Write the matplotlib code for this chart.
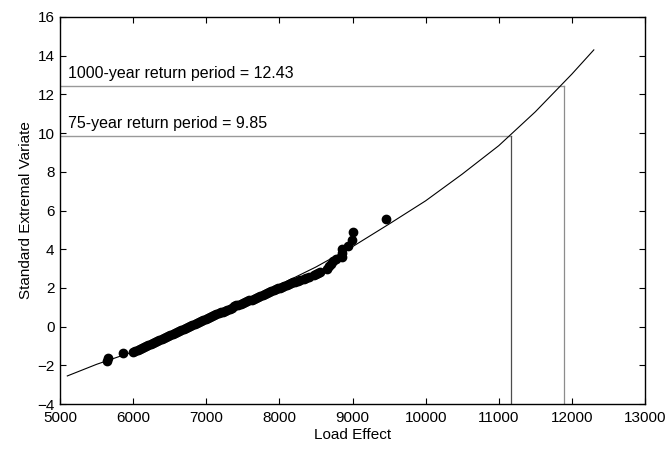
import matplotlib
matplotlib.use("Agg")
import matplotlib.pyplot as plt

plt.rcParams['font.family'] = ['Liberation Sans', 'DejaVu Sans']

# Observed data (load effect vs standard extremal variate)
obs_x = [5640, 5650, 5860, 6000, 6030, 6060, 6090, 6120, 6150, 6180, 6210, 6240,
         6270, 6300, 6330, 6360, 6390, 6420, 6450, 6480, 6510, 6540, 6570, 6600,
         6630, 6660, 6690, 6720, 6750, 6780, 6810, 6840, 6870, 6900, 6930, 6960,
         6990, 7020, 7050, 7080, 7110, 7140, 7170, 7200, 7230, 7260, 7290, 7320,
         7350, 7380, 7410, 7440, 7470, 7500, 7530, 7560, 7590, 7620, 7650, 7680,
         7710, 7740, 7770, 7800, 7830, 7860, 7890, 7920, 7950, 7980, 8010, 8040,
         8070, 8100, 8130, 8160, 8190, 8220, 8250, 8280, 8330, 8360, 8400, 8470,
         8500, 8530, 8560, 8650, 8680, 8710, 8740, 8770, 8850, 8855, 8860, 8935,
         8990, 9005, 9455]
obs_y = [-1.80, -1.62, -1.38, -1.30, -1.25, -1.20, -1.16, -1.10, -1.05, -1.00, -0.95, -0.90,
         -0.85, -0.79, -0.74, -0.70, -0.64, -0.59, -0.53, -0.48, -0.43, -0.38, -0.33, -0.27,
         -0.22, -0.18, -0.12, -0.07, -0.02, 0.03, 0.08, 0.13, 0.18, 0.22, 0.28, 0.33,
         0.38, 0.44, 0.50, 0.55, 0.60, 0.65, 0.69, 0.73, 0.78, 0.83, 0.88, 0.93,
         0.98, 1.05, 1.10, 1.13, 1.16, 1.20, 1.25, 1.30, 1.35, 1.40, 1.45, 1.50,
         1.55, 1.59, 1.64, 1.69, 1.73, 1.78, 1.84, 1.89, 1.93, 1.98, 2.02, 2.06,
         2.11, 2.15, 2.20, 2.24, 2.28, 2.33, 2.37, 2.41, 2.46, 2.50, 2.55, 2.68,
         2.73, 2.77, 2.82, 3.00, 3.12, 3.25, 3.38, 3.50, 3.60, 3.80, 4.00, 4.17,
         4.48, 4.87, 5.56]

# Fitted curve
fit_x = [5100, 5500, 6000, 6500, 7000, 7500, 8000, 8500, 9000, 9500, 10000,
         10500, 11000, 11500, 12000, 12300]
fit_y = [-2.55, -1.95, -1.30, -0.50, 0.38, 1.22, 2.15, 3.08, 4.13, 5.30, 6.50,
         7.88, 9.35, 11.10, 13.05, 14.30]

# Return periods
rp_labels = ['1000-year return period = 12.43', '75-year return period = 9.85']
rp_y = [12.43, 9.85]
rp_x = [11892, 11168]

xticks = list(range(5000, 13001, 1000))
yticks = list(range(-4, 17, 2))

fig = plt.figure(figsize=(6.7, 4.53), dpi=100)
ax = fig.add_axes([60/670, 1-404/453, 585/670, 387/453])

ax.plot(fit_x, fit_y, color='black', lw=0.8, zorder=3)
ax.plot(obs_x, obs_y, 'o', color='black', markersize=6, zorder=4)

vcolors = ['0.55', '0.3']
for lab, yv, xv, vc in zip(rp_labels, rp_y, rp_x, vcolors):
    ax.plot([5000, xv], [yv, yv], color='0.6', lw=1.0, zorder=2)
    ax.plot([xv, xv], [-4, yv], color=vc, lw=0.9, zorder=2)
    ax.text(5110, yv + 0.42, lab, fontsize=11.5, ha='left', va='baseline')

ax.set_xlim(5000, 13000)
ax.set_ylim(-4, 16)
ax.set_xticks(xticks)
ax.set_yticks(yticks)
ax.tick_params(direction='in', length=4, width=0.8, top=True, right=True,
               labelsize=11)
ax.tick_params(axis='x', pad=5)
ax.tick_params(axis='y', pad=4)
for s in ax.spines.values():
    s.set_linewidth(1.0)
ax.set_xlabel('Load Effect', fontsize=11, labelpad=2)
ax.set_ylabel('Standard Extremal Variate', fontsize=11, labelpad=3)

fig.savefig('out.png', dpi=100)
